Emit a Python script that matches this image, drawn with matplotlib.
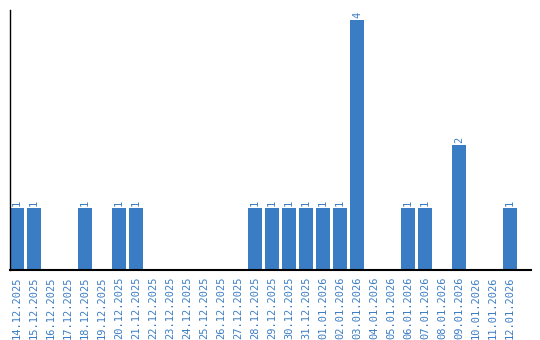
import matplotlib
matplotlib.use("Agg")
import matplotlib.pyplot as plt

# dates shown on the x axis
dates = ["14.12.2025", "15.12.2025", "16.12.2025", "17.12.2025", "18.12.2025",
         "19.12.2025", "20.12.2025", "21.12.2025", "22.12.2025", "23.12.2025",
         "24.12.2025", "25.12.2025", "26.12.2025", "27.12.2025", "28.12.2025",
         "29.12.2025", "30.12.2025", "31.12.2025", "01.01.2026", "02.01.2026",
         "03.01.2026", "04.01.2026", "05.01.2026", "06.01.2026", "07.01.2026",
         "08.01.2026", "09.01.2026", "10.01.2026", "11.01.2026", "12.01.2026"]
counts = [1, 1, 0, 0, 1, 0, 1, 1, 0, 0,
          0, 0, 0, 0, 1, 1, 1, 1, 1, 1,
          4, 0, 0, 1, 1, 0, 2, 0, 0, 1]

blue = "#3b7dc4"

fig = plt.figure(figsize=(5.4, 3.4), dpi=100)
ax = fig.add_axes([10 / 540, 70 / 340, 521 / 540, 260 / 340])

x = range(len(dates))
ax.bar(x, counts, width=14 / 17, color=blue)

# value labels above non-empty bars
for i, c in enumerate(counts):
    if c > 0:
        ax.text(i, c + 0.03, str(c), rotation=90, ha="center", va="bottom",
                color=blue, fontsize=7.5, family="DejaVu Sans Mono")

ax.set_xlim(-7 / 17, -7 / 17 + 521 / 17)
ax.set_ylim(0, 4.16)
ax.set_xticks(list(x))
ax.set_xticklabels(dates, rotation=90, color=blue, fontsize=7.5,
                   family="DejaVu Sans Mono")
ax.set_yticks([])
ax.tick_params(axis="x", length=0, pad=5)

for side in ["top", "right"]:
    ax.spines[side].set_visible(False)
ax.spines["left"].set_linewidth(1)
ax.spines["bottom"].set_linewidth(1.5)

fig.savefig("out.png", dpi=100)
